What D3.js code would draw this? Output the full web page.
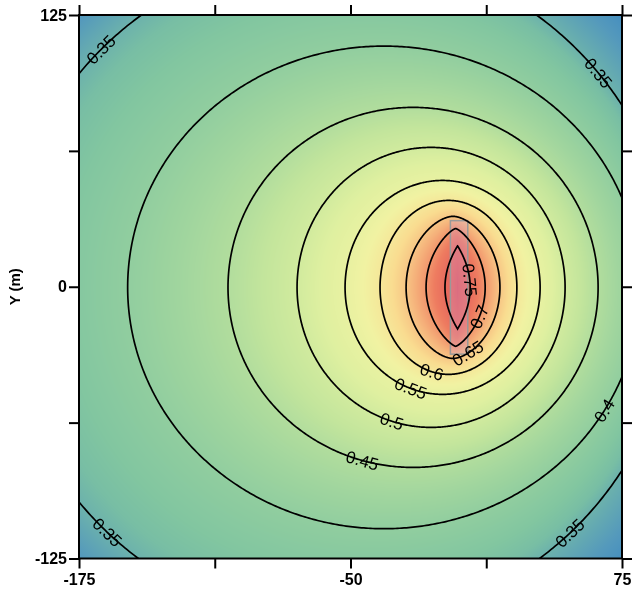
<!DOCTYPE html>
<meta charset="utf-8">
<html>
<head>
<script src="https://d3js.org/d3.v7.min.js"></script>
<style>
  body { margin: 0; background: #fff; }
  #wrap { position: relative; width: 635px; height: 589px; }
  #wrap canvas, #wrap svg { position: absolute; left: 0; top: 0; }
  .clabel { font-family: "Liberation Sans", Arial, sans-serif; font-size: 17px; fill: #000; }
  .axis text { font-family: "Liberation Sans", Arial, sans-serif; font-weight: bold; font-size: 16px; fill: #000; }
  .axis line { stroke: #000; stroke-width: 2px; }
  .axis path { display: none; }
</style>
</head>
<body>
<div id="wrap"></div>
<script>
// contour levels and the ring each one draws (in metres)
var levels = [0.35, 0.4, 0.45, 0.5, 0.55, 0.6, 0.65, 0.7, 0.75];
var ringX  = [-55.3, -34.6, -21.2, -12.9, -7.6, -4.9, -2.8, -1.6, -0.7];
var ringY  = [-0.5, -0.3, -0.3, -0.3, -0.3, -0.3, -0.3, -0.3, -0.3];
var halfW  = [155, 118, 85.2, 61.7, 44.9, 31.5, 21.6, 13.6, 5.8];
var halfH  = [155, 111, 82.8, 64.4, 49.2, 40, 32.7, 27.1, 19.1];
var tipPow = [2, 2, 2, 2, 2, 2, 1.7, 1.3, 1];   // below 2 = pointed top and bottom
var peakValue = 0.79;

// colour ramp
var rampValue = [0.30, 0.33, 0.36, 0.375, 0.425, 0.475, 0.525, 0.575, 0.625, 0.675, 0.725, 0.77, 0.80];
var rampColor = ["#2f7ec4", "#5499bc", "#78bea4", "#82c6a0", "#a0d59e", "#c3e59c", "#dff0a0",
                 "#f1f2a2", "#f9dc90", "#f5b07a", "#ee7c60", "#e4605c", "#dc5060"];

// the source strip
var sourceX = [-4, 4], sourceY = [-31, 30.4];

// inline labels: which level, and angle round its ring
var labelLevel = [0.35, 0.35, 0.35, 0.35, 0.4, 0.45, 0.5, 0.55, 0.6, 0.65, 0.7, 0.75];
var labelAngle = [135, 39.6, 226.5, -46.7, -30.7, -105.9, -107, -109, -104, -68, -30, 10];

var xTicks = [-175, -112.5, -50, 12.5, 75], yTicks = [-125, -62.5, 0, 62.5, 125];
var xShown = [-175, -50, 75], yShown = [-125, 0, 125];

var W = 635, H = 589;
var mLeft = 79, mRight = 622, mTop = 15, mBottom = 558.5;

var x = d3.scaleLinear().domain([-175, 75]).range([mLeft, mRight]);
var y = d3.scaleLinear().domain([-125, 125]).range([mBottom, mTop]);

var color = d3.scaleLinear().domain(rampValue).range(rampColor)
  .interpolate(d3.interpolateRgb).clamp(true);

// value at a point, blended between the rings it sits between
function ringG(k, px, py) {
  var dx = Math.abs(px - ringX[k]) / halfW[k], dy = (py - ringY[k]) / halfH[k];
  return Math.sqrt(Math.pow(dx, tipPow[k]) + dy * dy);
}
function ringR(k) { return Math.sqrt(halfW[k] * halfH[k]); }

function field(px, py) {
  var n = levels.length, g = [], inside = -1;
  for (var k = 0; k < n; k++) g.push(ringG(k, px, py));
  for (var k = n - 1; k >= 0; k--) { if (g[k] <= 1) { inside = k; break; } }
  if (inside == n - 1) return levels[n - 1] + (1 - g[n - 1]) * (peakValue - levels[n - 1]);
  if (inside == -1) {
    var slope = (levels[1] - levels[0]) / (ringR(0) - ringR(1));
    return levels[0] - (g[0] - 1) * ringR(0) * slope;
  }
  var a = (1 - g[inside]) * ringR(inside), b = (g[inside + 1] - 1) * ringR(inside + 1);
  var t = a / (a + b);
  return levels[inside] + t * (levels[inside + 1] - levels[inside]);
}

var wrap = d3.select("#wrap");

// colour raster
var cw = Math.round(mRight - mLeft), ch = Math.round(mBottom - mTop);
var canvas = wrap.append("canvas").attr("width", cw).attr("height", ch)
  .style("left", mLeft + "px").style("top", mTop + "px");
var ctx = canvas.node().getContext("2d");
var img = ctx.createImageData(cw, ch);
for (var j = 0; j < ch; j++) {
  var py = y.invert(mTop + j + 0.5);
  for (var i = 0; i < cw; i++) {
    var px = x.invert(mLeft + i + 0.5);
    var c = d3.rgb(color(field(px, py)));
    var o = (j * cw + i) * 4;
    img.data[o] = c.r;
    img.data[o + 1] = c.g;
    img.data[o + 2] = c.b;
    img.data[o + 3] = 255;
  }
}
ctx.putImageData(img, 0, 0);

var svg = wrap.append("svg").attr("width", W).attr("height", H);

svg.append("clipPath").attr("id", "plot")
  .append("rect").attr("x", mLeft).attr("y", mTop)
  .attr("width", mRight - mLeft).attr("height", mBottom - mTop);

// source strip
svg.append("rect")
  .attr("x", x(sourceX[0])).attr("y", y(sourceY[1]))
  .attr("width", x(sourceX[1]) - x(sourceX[0]))
  .attr("height", y(sourceY[0]) - y(sourceY[1]))
  .style("fill", "#d0a0d0").style("fill-opacity", 0.3)
  .style("stroke", "#999").style("stroke-width", 1.5);

// contour rings
function ringPoint(k, deg) {
  var th = deg * Math.PI / 180, c = Math.cos(th), s = Math.sin(th);
  var dx = halfW[k] * Math.sign(c) * Math.pow(Math.abs(c), 2 / tipPow[k]);
  return [ringX[k] + dx, ringY[k] + halfH[k] * s];
}
var ring = d3.line()
  .x(function(d) { return x(d[0]); })
  .y(function(d) { return y(d[1]); })
  .curve(d3.curveLinearClosed);

var g = svg.append("g").attr("clip-path", "url(#plot)");
levels.forEach(function(lv, k) {
  var pts = d3.range(0, 360, 0.5).map(function(a) { return ringPoint(k, a); });
  g.append("path").datum(pts).attr("d", ring)
    .style("fill", "none").style("stroke", "#000").style("stroke-width", 1.7);
});

// labels along the rings
labelLevel.forEach(function(lv, i) {
  var k = levels.indexOf(lv);
  var p0 = ringPoint(k, labelAngle[i] - 0.5), p1 = ringPoint(k, labelAngle[i] + 0.5);
  var p = ringPoint(k, labelAngle[i]);
  var ang = Math.atan2(y(p1[1]) - y(p0[1]), x(p1[0]) - x(p0[0])) * 180 / Math.PI;
  if (ang > 90) ang -= 180;
  if (ang <= -90) ang += 180;
  g.append("text").attr("class", "clabel")
    .attr("transform", "translate(" + x(p[0]) + "," + y(p[1]) + ")rotate(" + ang + ")")
    .attr("text-anchor", "middle").attr("dy", "0.35em")
    .text(lv);
});

// frame and axes
svg.append("rect").attr("x", mLeft).attr("y", mTop)
  .attr("width", mRight - mLeft).attr("height", mBottom - mTop)
  .style("fill", "none").style("stroke", "#000").style("stroke-width", 2);

function fmt(shown) { return function(d) { return shown.indexOf(d) >= 0 ? d : ""; }; }

svg.append("g").attr("class", "axis")
  .attr("transform", "translate(0," + mBottom + ")")
  .call(d3.axisBottom(x).tickValues(xTicks).tickSize(10).tickPadding(5).tickFormat(fmt(xShown)));
svg.append("g").attr("class", "axis")
  .attr("transform", "translate(0," + mTop + ")")
  .call(d3.axisTop(x).tickValues(xTicks).tickSize(10).tickFormat(""));
svg.append("g").attr("class", "axis")
  .attr("transform", "translate(" + mLeft + ",0)")
  .call(d3.axisLeft(y).tickValues(yTicks).tickSize(10).tickPadding(2).tickFormat(fmt(yShown)));
svg.append("g").attr("class", "axis")
  .attr("transform", "translate(" + mRight + ",0)")
  .call(d3.axisRight(y).tickValues(yTicks).tickSize(10).tickFormat(""));

svg.append("text")
  .attr("transform", "translate(20," + y(0) + ")rotate(-90)")
  .attr("text-anchor", "middle")
  .style("font-family", "Liberation Sans, Arial, sans-serif")
  .style("font-weight", "bold").style("font-size", "15px")
  .text("Y (m)");
</script>
</body>
</html>
